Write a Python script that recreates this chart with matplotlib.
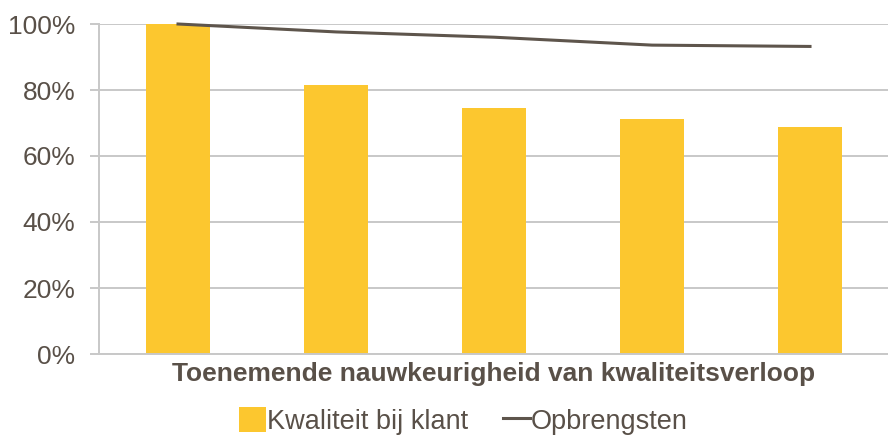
import matplotlib
matplotlib.use("Agg")
import matplotlib.pyplot as plt
import numpy as np
from matplotlib.ticker import PercentFormatter

plt.rcParams['font.family'] = ['Liberation Sans', 'DejaVu Sans']

categories = ["1", "2", "3", "4", "5"]
kwaliteit_bij_klant = [100.0, 81.4, 74.4, 71.2, 68.8]
opbrengsten = [100.0, 97.6, 96.0, 93.6, 93.2]
y_ticks = [0, 20, 40, 60, 80, 100]

text_color = "#595048"
grid_color = "#C8C8C8"
bar_color = "#FCC72F"
line_color = "#5E554C"

fig = plt.figure(figsize=(8.88, 4.37), dpi=100)
ax = fig.add_axes([99 / 888, 1 - 354 / 437, 790 / 888, 330 / 437])

x = np.arange(len(categories))
bars = ax.bar(x, kwaliteit_bij_klant, width=0.4, color=bar_color, zorder=2,
              label="Kwaliteit bij klant")
line, = ax.plot(x, opbrengsten, color=line_color, linewidth=2.2, zorder=3,
                clip_on=False, label="Opbrengsten")

ax.set_xlim(-0.5, len(categories) - 0.5)
ax.set_ylim(0, 100)
ax.set_yticks(y_ticks)
ax.yaxis.set_major_formatter(PercentFormatter(decimals=0))
ax.set_xticks([])

ax.grid(axis="y", color=grid_color, linewidth=1.4, zorder=0)
for side in ["top", "right"]:
    ax.spines[side].set_visible(False)
for side in ["left", "bottom"]:
    ax.spines[side].set_color(grid_color)
    ax.spines[side].set_linewidth(1.4)

ax.tick_params(axis="y", colors=grid_color, length=6.5, width=1.4,
               labelcolor=text_color, labelsize=19, pad=10.5)

ax.set_xlabel("Toenemende nauwkeurigheid van kwaliteitsverloop",
              fontsize=19, fontweight="bold", color=text_color, labelpad=6)

fig.legend(handles=[bars, line], loc="center",
           bbox_to_anchor=(0.522, 1 - 421 / 437),
           ncol=2, frameon=False, fontsize=19.5, labelcolor=text_color,
           handlelength=1.0, handleheight=1.0, handletextpad=0.02,
           columnspacing=1.3, borderpad=0)

fig.savefig("out.png", dpi=100)
